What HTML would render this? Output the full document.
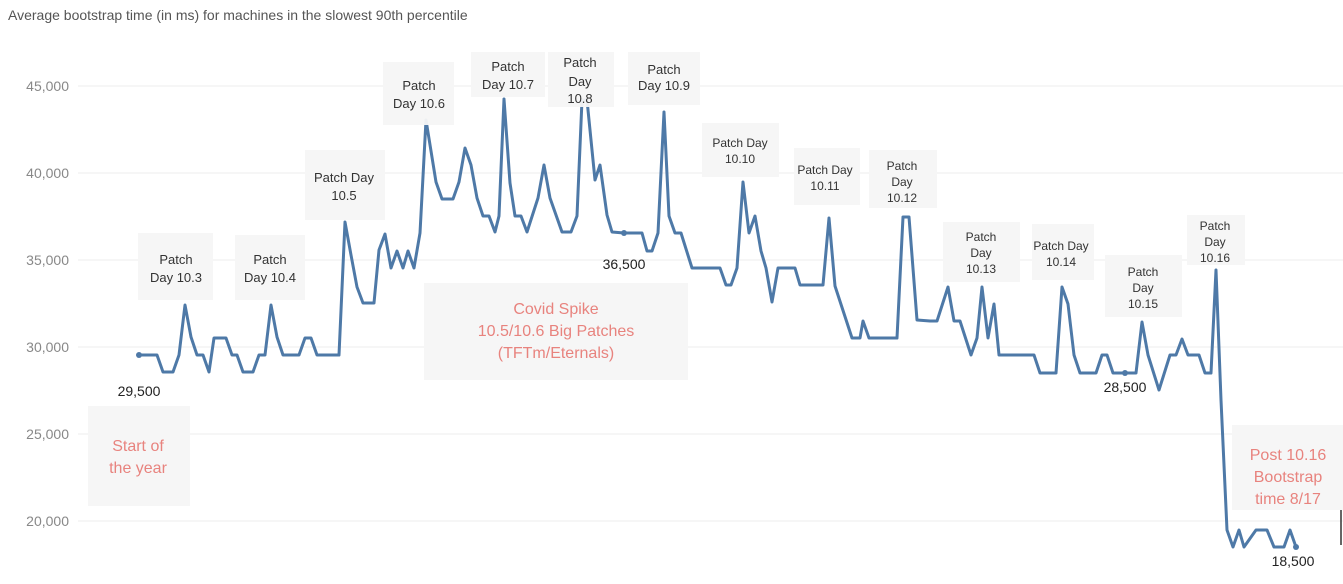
<!DOCTYPE html>
<html><head><meta charset="utf-8"><style>
body{margin:0;background:#fff;width:1343px;height:579px;overflow:hidden;font-family:"Liberation Sans",sans-serif}
</style></head><body>
<svg width="1343" height="579" xmlns="http://www.w3.org/2000/svg" font-family="Liberation Sans, sans-serif">
<text x="8" y="20" font-size="14" fill="#555">Average bootstrap time (in ms) for machines in the slowest 90th percentile</text>
<g stroke="#ececec" stroke-width="1">
<line x1="78" y1="86" x2="1343" y2="86"/><line x1="78" y1="173" x2="1343" y2="173"/>
<line x1="78" y1="260" x2="1343" y2="260"/><line x1="78" y1="347" x2="1343" y2="347"/>
<line x1="78" y1="434" x2="1343" y2="434"/><line x1="78" y1="521" x2="1343" y2="521"/>
</g>
<g font-size="14" fill="#888" text-anchor="end">
<text x="69" y="91">45,000</text><text x="69" y="178">40,000</text><text x="69" y="265">35,000</text>
<text x="69" y="352">30,000</text><text x="69" y="439">25,000</text><text x="69" y="526">20,000</text>
</g>
<polyline fill="none" stroke="#4e79a7" stroke-width="3" stroke-linejoin="round" points="139,355 157,355 163,372 173,372 179,355 185,305 191,337 197,355 203,355 209,372 214,338 226,338 232,355 237,355 243,372 253,372 259,355 265,355 271,305 277,337 283,355 299,355 305,338 311,338 317,355 339,355 345,222 351,255 357,287 363,303 374,303 379,250 385,234 391,268 397,251 403,268 408,251 414,268 420,233 426,120 436,182 442,199 453,199 459,182 465,148 471,165 477,198 483,216 489,216 495,232 499,216 504,99 510,183 515,216 521,216 527,232 538,198 544,165 550,198 562,232 571,232 577,216 582,100 587,100 595,180 600,165 607,215 612,232 624,233 642,233 647,251 652,251 658,233 664,112 669,216 675,233 681,233 692,268 720,268 726,285 731,285 737,268 743,182 749,233 755,216 761,251 766,268 772,302 778,268 795,268 800,285 823,285 829,218 835,286 852,338 860,338 863,321 869,338 897,338 903,217 909,217 917,320 930,321 937,321 948,287 954,321 960,321 971,355 977,338 982,287 988,338 994,304 999,355 1034,355 1040,373 1056,373 1062,287 1068,304 1074,355 1080,373 1096,373 1102,355 1107,355 1113,373 1136,373 1142,322 1148,355 1159,390 1170,355 1176,355 1182,339 1188,355 1199,355 1205,373 1211,373 1216,270 1221,400 1227,530 1233,547 1239,530 1244,547 1256,530 1267,530 1274,547 1284,547 1290,530 1296,547"/>
<g fill="#4e79a7"><circle cx="139" cy="355" r="3"/><circle cx="624" cy="233" r="3"/><circle cx="1125" cy="373" r="3"/><circle cx="1296" cy="547" r="3"/></g>
<g fill="#f6f6f6" fill-opacity="0.95">
<rect x="138" y="233" width="75" height="67"/><rect x="235" y="235" width="70" height="65"/>
<rect x="305" y="150" width="80" height="70"/><rect x="383" y="62" width="71" height="63"/>
<rect x="471" y="52" width="74" height="45"/><rect x="548" y="52" width="66" height="55"/>
<rect x="628" y="52" width="72" height="53"/><rect x="702" y="123" width="77" height="54"/>
<rect x="794" y="148" width="66" height="57"/><rect x="869" y="150" width="68" height="58"/>
<rect x="943" y="222" width="77" height="60"/><rect x="1032" y="224" width="62" height="56"/>
<rect x="1105" y="255" width="77" height="62"/><rect x="1187" y="215" width="58" height="50"/>
<rect x="1232" y="425" width="111" height="85"/><rect x="424" y="283" width="264" height="97"/>
<rect x="88" y="406" width="102" height="100"/>
</g>
<g font-size="13" fill="#333" text-anchor="middle">
<text x="176" y="264">Patch</text><text x="176" y="282">Day 10.3</text>
<text x="270" y="264">Patch</text><text x="270" y="282">Day 10.4</text>
<text x="344" y="182">Patch Day</text><text x="344" y="200">10.5</text>
<text x="419" y="90">Patch</text><text x="419" y="108">Day 10.6</text>
<text x="508" y="71">Patch</text><text x="508" y="89">Day 10.7</text>
<text x="580" y="67">Patch</text><text x="580" y="86">Day</text><text x="580" y="103">10.8</text>
<text x="664" y="74">Patch</text><text x="664" y="90">Day 10.9</text>
</g>
<g font-size="12" fill="#333" text-anchor="middle">
<text x="740" y="147">Patch Day</text><text x="740" y="163">10.10</text>
<text x="825" y="174">Patch Day</text><text x="825" y="190">10.11</text>
<text x="902" y="170">Patch</text><text x="902" y="186">Day</text><text x="902" y="202">10.12</text>
<text x="981" y="241">Patch</text><text x="981" y="257">Day</text><text x="981" y="273">10.13</text>
<text x="1061" y="250">Patch Day</text><text x="1061" y="266">10.14</text>
<text x="1143" y="276">Patch</text><text x="1143" y="292">Day</text><text x="1143" y="308">10.15</text>
<text x="1215" y="230">Patch</text><text x="1215" y="246">Day</text><text x="1215" y="262">10.16</text>
</g>
<g font-size="16" fill="#e8837e" text-anchor="middle">
<text x="556" y="314">Covid Spike</text><text x="556" y="336">10.5/10.6 Big Patches</text><text x="556" y="358">(TFTm/Eternals)</text>
<text x="138" y="451">Start of</text><text x="138" y="473">the year</text>
<text x="1288" y="460">Post 10.16</text><text x="1288" y="482">Bootstrap</text><text x="1288" y="504">time 8/17</text>
</g>
<g font-size="14" fill="#222" text-anchor="middle">
<text x="139" y="396">29,500</text><text x="624" y="269">36,500</text>
<text x="1125" y="392">28,500</text><text x="1293" y="566">18,500</text>
</g>
<line x1="1341" y1="510" x2="1341" y2="545" stroke="#333" stroke-width="1.5"/>
</svg>
</body></html>
